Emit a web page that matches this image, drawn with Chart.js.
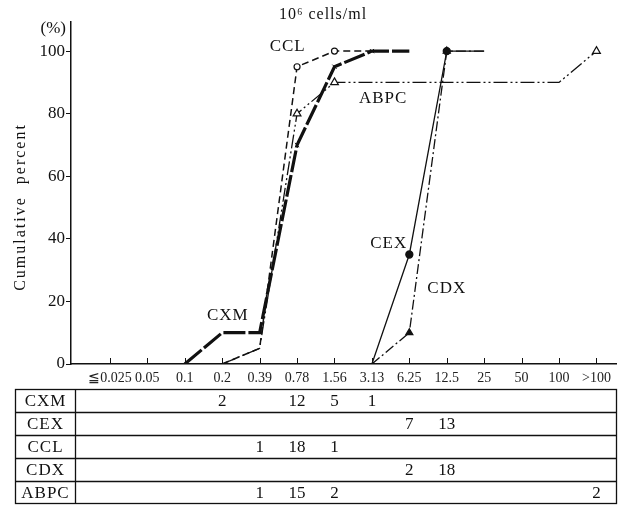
<!DOCTYPE html>
<html><head><meta charset="utf-8">
<script src="https://cdn.jsdelivr.net/npm/chart.js@4"></script>
<style>html,body{margin:0;padding:0;background:#fff}#wrap{width:622px;height:505px}</style>
</head><body><div id="wrap"><canvas id="c" width="622" height="505"></canvas></div>
<script>
const categories = ["≦0.025","0.05","0.1","0.2","0.39","0.78","1.56","3.13","6.25","12.5","25","50","100",">100"];
const yTicks = [0,20,40,60,80,100];
// cumulative percent per category (null = no point)
const cxmCum  = [null,null,0,10,10,70,95,100,100,null,null,null,null,null];
const cexCum  = [null,null,null,null,null,null,null,0,35,100,100,null,null,null];
const cclCum  = [null,null,null,0,5,95,100,100,null,null,null,null,null,null];
const cdxCum  = [null,null,null,null,null,null,null,0,10,100,100,null,null,null];
const abpcCum = [null,null,null,0,5,80,90,90,90,90,90,90,90,100];
// counts for the table
const rowNames = ["CXM","CEX","CCL","CDX","ABPC"];
const cxmCnt  = [null,null,null,2,null,12,5,1,null,null,null,null,null,null];
const cexCnt  = [null,null,null,null,null,null,null,null,7,13,null,null,null,null];
const cclCnt  = [null,null,null,null,1,18,1,null,null,null,null,null,null,null];
const cdxCnt  = [null,null,null,null,null,null,null,null,2,18,null,null,null,null];
const abpcCnt = [null,null,null,null,1,15,2,null,null,null,null,null,null,2];
const tableRows = [cxmCnt,cexCnt,cclCnt,cdxCnt,abpcCnt];

const pts = arr => arr.map((v,i)=> v===null?null:{x:i,y:v}).filter(p=>p);
const SERIF = "'Liberation Serif','DejaVu Serif',serif";

function ds(label, arr, opts, markIdx){
  return Object.assign({
    label, data: pts(arr), borderColor:'#111', backgroundColor:'#111', pointBorderColor:'#111',
    tension:0, fill:false,
    pointRadius: c => markIdx.includes(c.raw.x) ? (opts._r||3.5) : 0,
    pointHoverRadius:0
  }, opts);
}

const datasets = [
  ds("CXM", cxmCum, {borderWidth:3.2, borderDash:[22,3], pointStyle:'crossRot', pointBorderWidth:1, _r:3}, [5,6,7]),
  ds("CEX", cexCum, {borderWidth:1.3, pointStyle:'circle', pointBackgroundColor:'#111'}, [8,9]),
  ds("CCL", cclCum, {borderWidth:1.5, borderDash:[7,4], pointStyle:'circle', pointBackgroundColor:'#fff', pointBorderWidth:1.2, _r:3}, [5,6]),
  ds("CDX", cdxCum, {borderWidth:1.3, borderDash:[10,3,2,3], pointStyle:'triangle', pointBackgroundColor:'#111', _r:4}, [8,9]),
  ds("ABPC", abpcCum, {borderWidth:1.3, borderDash:[14,3,2,3,2,3], pointStyle:'triangle', pointBackgroundColor:'#fff', pointBorderWidth:1.2, _r:4.5}, [5,6,13])
];

const inlineLabels = [
  {t:"CCL", x:4.75, y:101.5},
  {t:"ABPC", x:7.3, y:85},
  {t:"CXM", x:3.15, y:15.5},
  {t:"CEX", x:7.45, y:38.5},
  {t:"CDX", x:9.0, y:24}
];

const extras = {
  id:'extras',
  afterDraw(chart){
    const c = chart.ctx, xs = chart.scales.x, ys = chart.scales.y, a = chart.chartArea;
    c.save();
    c.fillStyle='#111'; c.strokeStyle='#111';
    // inward x ticks
    c.lineWidth=1;
    categories.forEach((_,i)=>{const px=Math.round(xs.getPixelForValue(i))+0.5;c.beginPath();c.moveTo(px,a.bottom);c.lineTo(px,a.bottom-6);c.stroke();});
    // title
    c.font="16px "+SERIF; c.textAlign='center'; c.textBaseline='middle';
    c.letterSpacing='1px';
    c.fillText("10⁶ cells/ml", 323, 15);
    c.letterSpacing='0px';
    c.font="17px "+SERIF; c.textAlign='right';
    c.fillText("(%)", 66, 29);
    // y title
    c.save(); c.translate(21, 207); c.rotate(-Math.PI/2); c.textAlign='center';
    c.font="16px "+SERIF; c.letterSpacing='2px'; c.fillText("Cumulative  percent",0,0); c.restore();
    // inline labels
    c.font="17px "+SERIF; c.textAlign='center'; c.letterSpacing='1px';
    inlineLabels.forEach(l=>c.fillText(l.t, xs.getPixelForValue(l.x), ys.getPixelForValue(l.y)));
    // table
    const L=15.5, R=616.5, D=75.5, rows=[389.5,412.5,435.5,458.5,481.5,503.5];
    c.lineWidth=1.3;
    c.strokeRect(L, rows[0], R-L, rows[5]-rows[0]);
    c.beginPath(); c.moveTo(D,rows[0]); c.lineTo(D,rows[5]);
    for(let k=1;k<5;k++){c.moveTo(L,rows[k]);c.lineTo(R,rows[k]);}
    c.stroke();
    c.font="17px "+SERIF;
    rowNames.forEach((n,k)=>{
      const cy=(rows[k]+rows[k+1])/2+1;
      c.textAlign='center'; c.letterSpacing='1px'; c.fillText(n,(L+D)/2,cy);
      c.letterSpacing='0px';
      tableRows[k].forEach((v,i)=>{ if(v!==null) c.fillText(String(v), xs.getPixelForValue(i), cy); });
    });
    c.restore();
  }
};

new Chart(document.getElementById('c'), {
  type:'line',
  data:{datasets},
  options:{
    responsive:false, animation:false, events:[],
    layout:{padding:{top:22,right:4,left:0,bottom:0}},
    plugins:{legend:{display:false}, tooltip:{enabled:false}},
    scales:{
      x:{type:'linear', min:-1.04, max:13.53,
        afterBuildTicks: s => { s.ticks = categories.map((_,i)=>({value:i})); },
        afterFit: s => { s.height = 141; },
        ticks:{callback:v=>categories[v]??'', color:'#222', font:{family:SERIF,size:14}, padding:6, maxRotation:0, autoSkip:false},
        grid:{display:true, drawOnChartArea:false, drawTicks:false},
        border:{color:'#111', width:1.5}
      },
      y:{type:'linear', min:0, max:109.3,
        afterBuildTicks: s => { s.ticks = yTicks.map(v=>({value:v})); },
        afterFit: s => { s.width = 71; },
        ticks:{color:'#111', font:{family:SERIF,size:17}, padding:1},
        grid:{drawOnChartArea:false, tickLength:5, color:'#111'},
        border:{color:'#111', width:1.5}
      }
    }
  },
  plugins:[extras]
});
</script></body></html>
